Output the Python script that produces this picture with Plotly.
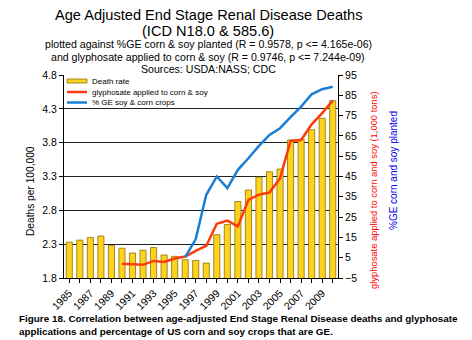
import plotly.graph_objects as go

years = list(range(1985, 2011))
death_rate = [2.33, 2.36, 2.40, 2.42, 2.28, 2.24, 2.17, 2.21, 2.25, 2.14, 2.12, 2.07, 2.06,
              2.02, 2.44, 2.59, 2.93, 3.10, 3.29, 3.37, 3.41, 3.84, 3.85, 3.99, 4.16, 4.42]

gly_years = list(range(1990, 2011))
glyphosate = [2.0, 1.9, 1.5, 3.4, 2.9, 4.6, 5.6, 8.4, 10.9, 21.7, 23.3, 20.4, 33.5, 36.1,
              37.1, 44.2, 62.5, 63.0, 70.7, 76.2, 82.4]

ge_years = list(range(1996, 2011))
ge_percent = [5.3, 14.2, 36.0, 45.0, 39.3, 48.3, 54.0, 60.1, 65.5, 68.8, 74.2, 79.4, 85.5, 88.0, 89.2]

tick_years = years
tick_labels = [str(y) if (y - 1985) % 2 == 0 else "" for y in years]

BAR = "#ffd21f"
BAR_EDGE = "#8a7200"
RED = "#ff3a0a"
BLUE = "#1a7fd4"
FONT = "Liberation Sans"

fig = go.Figure()
fig.add_trace(go.Bar(x=years, y=death_rate, name="Death rate", width=0.58,
                     marker=dict(color=BAR, line=dict(color=BAR_EDGE, width=0.8)),
                     yaxis="y"))
fig.add_trace(go.Scatter(x=gly_years, y=glyphosate, name="glyphosate applied to corn & soy",
                         mode="lines", line=dict(color=RED, width=2.5), yaxis="y2"))
fig.add_trace(go.Scatter(x=ge_years, y=ge_percent, name="% GE soy & corn crops",
                         mode="lines", line=dict(color=BLUE, width=2.5), yaxis="y2"))


def px(xp):
    return (xp - 64) / 274


def py(yp):
    return (278 - yp) / 203


title_lines = [
    ("Age Adjusted End Stage Renal Disease Deaths", 14.6, 15.5),
    ("(ICD N18.0 & 585.6)", 14.6, 30.5),
    ("plotted against %GE corn & soy planted (R = 0.9578, p <= 4.165e-06)", 10.6, 44.5),
    ("and glyphosate applied to corn & soy (R = 0.9746, p <= 7.244e-09)", 10.6, 56.5),
    ("Sources: USDA:NASS; CDC", 10.6, 68.5),
]
annotations = []
for text, size, ypx in title_lines:
    annotations.append(dict(text=text, x=px(208), xref="paper", y=py(ypx), yref="paper",
                            showarrow=False, xanchor="center", yanchor="middle", borderpad=0,
                            font=dict(family=FONT, size=size, color="black")))

annotations.append(dict(text="glyphosate applied to corn and soy (1,000 tons)", textangle=-90,
                        x=px(373), xref="paper", y=py(190), yref="paper",
                        showarrow=False, xanchor="center", yanchor="middle",
                        font=dict(family=FONT, size=9.4, color="#ff0000")))
annotations.append(dict(text="%GE corn and soy planted", textangle=-90,
                        x=px(393), xref="paper", y=py(171), yref="paper",
                        showarrow=False, xanchor="center", yanchor="middle",
                        font=dict(family=FONT, size=10, color="#0000ee")))
annotations.append(dict(text="Deaths per 100,000", textangle=-90,
                        x=px(30), xref="paper", y=py(191), yref="paper",
                        showarrow=False, xanchor="center", yanchor="middle",
                        font=dict(family=FONT, size=10.2, color="black")))

caption = ("<b>Figure 18. Correlation between age-adjusted End Stage Renal Disease deaths and glyphosate"
           "<br>applications and percentage of US corn and soy crops that are GE.</b>")
annotations.append(dict(text=caption, x=px(17), xref="paper", y=py(311),
                        yref="paper", showarrow=False, xanchor="left", yanchor="top", align="left",
                        font=dict(family=FONT, size=9.9, color="black")))

# hand-drawn legend inside the plot area
legend_items = [("Death rate", 81), ("glyphosate applied to corn & soy", 92), ("% GE soy & corn crops", 102.5)]
shapes = [
    dict(type="rect", xref="paper", yref="paper", x0=px(67), x1=px(87), y0=py(83), y1=py(79),
         fillcolor=BAR, line=dict(color=BAR_EDGE, width=0.8)),
    dict(type="line", xref="paper", yref="paper", x0=px(67), x1=px(87), y0=py(92), y1=py(92),
         line=dict(color=RED, width=2.5)),
    dict(type="line", xref="paper", yref="paper", x0=px(67), x1=px(87), y0=py(102.5), y1=py(102.5),
         line=dict(color=BLUE, width=2.5)),
]
for text, ypx in legend_items:
    annotations.append(dict(text=text, x=px(90), xref="paper", y=py(ypx), yref="paper",
                            showarrow=False, xanchor="left", yanchor="middle",
                            font=dict(family=FONT, size=8, color="black")))

fig.update_layout(
    width=472, height=340,
    margin=dict(l=64, r=134, t=75, b=62),
    paper_bgcolor="white", plot_bgcolor="white",
    showlegend=False,
    font=dict(family=FONT, size=10, color="black"),
    xaxis=dict(range=[1984.5, 2010.5], tickvals=tick_years, ticktext=tick_labels, tickangle=-45,
               ticks="outside", ticklen=4, tickcolor="black", showline=True, linecolor="black",
               linewidth=1, showgrid=False, zeroline=False, tickfont=dict(size=10.5)),
    yaxis=dict(range=[1.8, 4.8], dtick=0.5, tick0=1.8, tickformat=".1f", ticks="outside",
               ticklen=4, tickcolor="black", showline=True, linecolor="black", linewidth=1,
               showgrid=True, gridcolor="#222222", gridwidth=1, zeroline=False,
               tickfont=dict(size=10.5)),
    yaxis2=dict(range=[-5, 95], dtick=10, tick0=-5, overlaying="y", side="right", ticks="outside",
                ticklen=4, tickcolor="black", showline=True, linecolor="black", linewidth=1,
                showgrid=False, zeroline=False, tickfont=dict(size=10.5)),
    annotations=annotations,
    shapes=shapes,
)

fig.write_html("out.html")
